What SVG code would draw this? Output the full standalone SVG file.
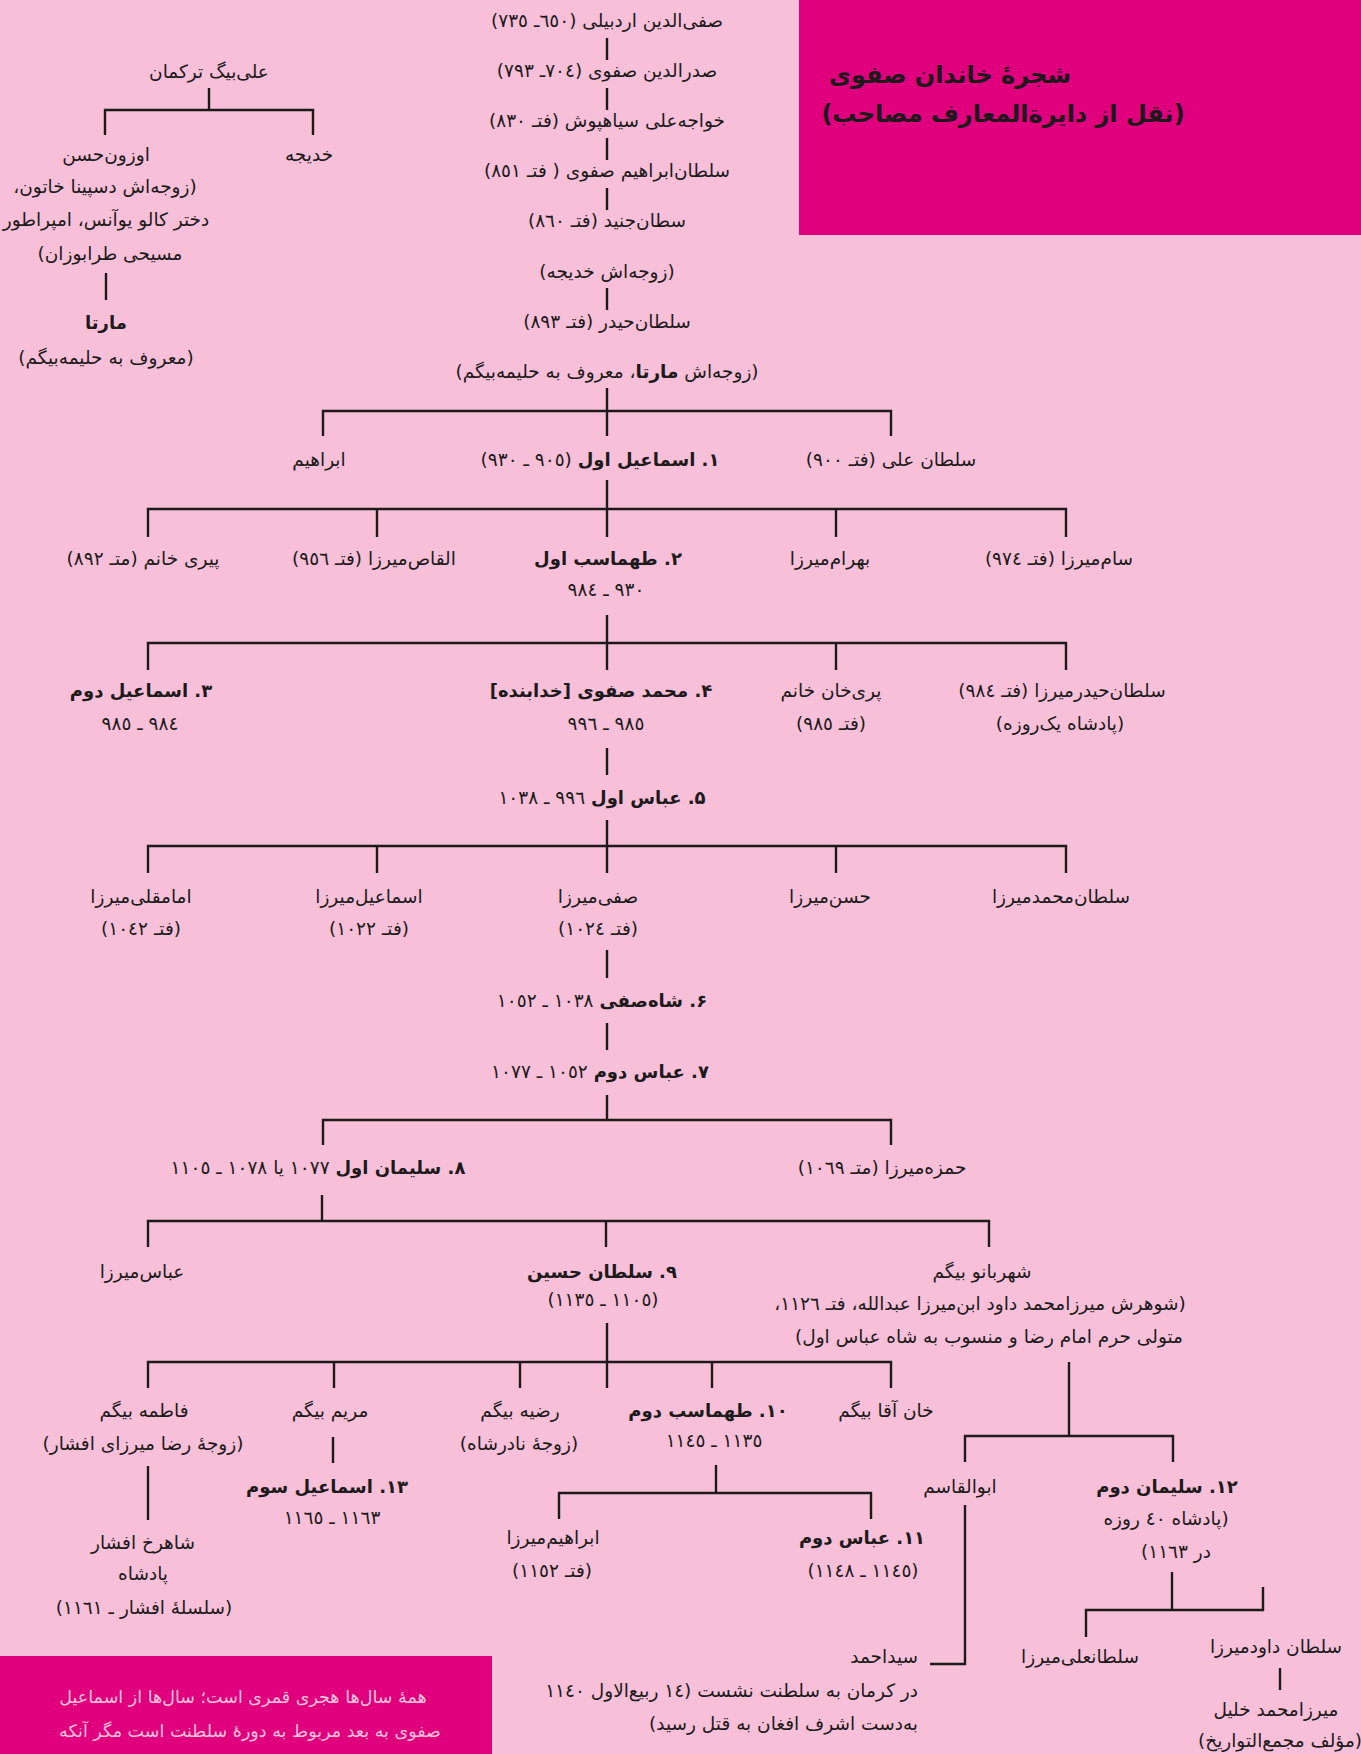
<svg xmlns="http://www.w3.org/2000/svg" width="1361" height="1754" viewBox="0 0 1361 1754">
<style>
.t{font-family:"DejaVu Sans",sans-serif;font-size:18.5px;fill:#1c1a1b;direction:rtl;text-anchor:middle}
.b{font-weight:bold;font-size:18px}
.r{text-anchor:start}
.ttl{font-family:"DejaVu Sans",sans-serif;font-size:24px;font-weight:bold;fill:#1c1a1b;direction:rtl;text-anchor:middle}
.note{font-family:"DejaVu Sans",sans-serif;font-size:17.5px;fill:#f3c3da;direction:rtl;text-anchor:middle}
.c line,.c polyline{stroke:#1c1a1b;stroke-width:2.4;fill:none}
</style>
<rect x="0" y="0" width="1361" height="1754" fill="#f7bfd8"/>
<g id="title">
<rect x="799" y="0" width="562" height="235" fill="#e0007e"/>
<text class="ttl" x="950" y="83">شجرهٔ خاندان صفوی</text>
<text class="ttl" x="1003" y="122">(نقل از دایرةالمعارف مصاحب)</text>
</g>
<g id="note">
<rect x="0" y="1656" width="492" height="98" fill="#e0007e"/>
<text class="note" x="243" y="1703">همهٔ سال‌ها هجری قمری است؛ سال‌ها از اسماعیل</text>
<text class="note" x="250" y="1737">صفوی به بعد مربوط به دورهٔ سلطنت است مگر آنکه</text>
</g>
<g class="c" id="connectors">
<line x1="607" y1="38" x2="607" y2="60"/>
<line x1="607" y1="88" x2="607" y2="110"/>
<line x1="607" y1="138" x2="607" y2="160"/>
<line x1="607" y1="188" x2="607" y2="210"/>
<line x1="607" y1="288" x2="607" y2="310"/>
<line x1="209" y1="88" x2="209" y2="110"/>
<polyline points="105,135 105,110 313,110 313,135"/>
<line x1="106" y1="273" x2="106" y2="300"/>
<line x1="607" y1="388" x2="607" y2="436"/>
<polyline points="323,436 323,411 891,411 891,436"/>
<line x1="607" y1="480" x2="607" y2="537"/>
<polyline points="148,537 148,509 1066,509 1066,537"/>
<line x1="377" y1="509" x2="377" y2="537"/>
<line x1="836" y1="509" x2="836" y2="537"/>
<line x1="607" y1="615" x2="607" y2="670"/>
<polyline points="148,670 148,643 1066,643 1066,670"/>
<line x1="836" y1="643" x2="836" y2="670"/>
<line x1="607" y1="748" x2="607" y2="775"/>
<line x1="607" y1="820" x2="607" y2="873"/>
<polyline points="148,873 148,846 1066,846 1066,873"/>
<line x1="377" y1="846" x2="377" y2="873"/>
<line x1="836" y1="846" x2="836" y2="873"/>
<line x1="607" y1="950" x2="607" y2="978"/>
<line x1="607" y1="1023" x2="607" y2="1050"/>
<line x1="607" y1="1095" x2="607" y2="1120"/>
<polyline points="323,1145 323,1120 891,1120 891,1145"/>
<line x1="322" y1="1195" x2="322" y2="1221"/>
<polyline points="148,1247 148,1221 989,1221 989,1247"/>
<line x1="606" y1="1221" x2="606" y2="1247"/>
<line x1="607" y1="1323" x2="607" y2="1388"/>
<polyline points="148,1388 148,1362 891,1362 891,1388"/>
<line x1="334" y1="1362" x2="334" y2="1388"/>
<line x1="520" y1="1362" x2="520" y2="1388"/>
<line x1="712" y1="1362" x2="712" y2="1388"/>
<line x1="1069" y1="1362" x2="1069" y2="1436"/>
<polyline points="965,1462 965,1436 1173,1436 1173,1462"/>
<line x1="148" y1="1466" x2="148" y2="1520"/>
<line x1="333" y1="1437" x2="333" y2="1463"/>
<line x1="716" y1="1465" x2="716" y2="1493"/>
<polyline points="559,1519 559,1493 871,1493 871,1519"/>
<polyline points="965,1505 965,1664 930,1664"/>
<line x1="1172" y1="1572" x2="1172" y2="1610"/>
<polyline points="1086,1637 1086,1610 1263,1610 1263,1587"/>
<line x1="1280" y1="1668" x2="1280" y2="1690"/>
</g>
<g id="n-safi-ardabili"><text class="t" x="607" y="27">صفی‌الدین اردبیلی (٦٥٠ـ ٧٣٥)</text></g>
<g id="n-sadr"><text class="t" x="607" y="77">صدرالدین صفوی (٧٠٤ـ ٧٩٣)</text></g>
<g id="n-khajeali"><text class="t" x="607" y="127">خواجه‌علی سیاهپوش (فتـ ٨٣٠)</text></g>
<g id="n-ebrahim-safavi"><text class="t" x="607" y="177">سلطان‌ابراهیم صفوی ( فتـ ٨٥١)</text></g>
<g id="n-jonayd"><text class="t" x="607" y="227">سطان‌جنید (فتـ ٨٦٠)</text><text class="t" x="607" y="278">(زوجه‌اش خدیجه)</text></g>
<g id="n-heydar"><text class="t" x="607" y="328">سلطان‌حیدر (فتـ ٨٩٣)</text><text class="t" x="607" y="378">(زوجه‌اش <tspan font-weight="bold">مارتا</tspan>، معروف به حلیمه‌بیگم)</text></g>
<g id="n-alibeg"><text class="t" x="209" y="78">علی‌بیگ ترکمان</text></g>
<g id="n-khadije"><text class="t" x="309" y="161">خدیجه</text></g>
<g id="n-uzunhasan"><text class="t" x="106" y="161">اوزون‌حسن</text><text class="t" x="105" y="193">(زوجه‌اش دسپینا خاتون،</text><text class="t" x="106" y="226">دختر کالو یوآنس، امپراطور</text><text class="t" x="110" y="260">مسیحی طرابوزان)</text></g>
<g id="n-marta"><text class="t b" x="106" y="329">مارتا</text><text class="t" x="106" y="364">(معروف به حلیمه‌بیگم)</text></g>
<g id="n-ebrahim"><text class="t" x="319" y="466">ابراهیم</text></g>
<g id="n-esmail1"><text class="t" x="600" y="466"><tspan class="b">۱. اسماعیل اول</tspan> (٩٠٥ ـ ٩٣٠)</text></g>
<g id="n-soltanali"><text class="t" x="891" y="466">سلطان علی (فتـ ٩٠٠)</text></g>
<g id="n-pirikhanom"><text class="t" x="143" y="565">پیری خانم (متـ ٨٩٢)</text></g>
<g id="n-alqas"><text class="t" x="374" y="565">القاص‌میرزا (فتـ ٩٥٦)</text></g>
<g id="n-tahmasb1"><text class="t b" x="608" y="565">۲. طهماسب اول</text><text class="t" x="606" y="596">٩٣٠ ـ ٩٨٤</text></g>
<g id="n-bahram"><text class="t" x="830" y="565">بهرام‌میرزا</text></g>
<g id="n-sam"><text class="t" x="1059" y="565">سام‌میرزا (فتـ ٩٧٤)</text></g>
<g id="n-esmail2"><text class="t b" x="141" y="697">۳. اسماعیل دوم</text><text class="t" x="140" y="730">٩٨٤ ـ ٩٨٥</text></g>
<g id="n-khodabande"><text class="t b" x="601" y="697">۴. محمد صفوی [خدابنده]</text><text class="t" x="606" y="730">٩٨٥ ـ ٩٩٦</text></g>
<g id="n-parikhan"><text class="t" x="831" y="697">پری‌خان خانم</text><text class="t" x="831" y="730">(فتـ ٩٨٥)</text></g>
<g id="n-heydarmirza"><text class="t" x="1062" y="697">سلطان‌حیدرمیرزا (فتـ ٩٨٤)</text><text class="t" x="1060" y="730">(پادشاه یک‌روزه)</text></g>
<g id="n-abbas1"><text class="t" x="602" y="804"><tspan class="b">۵. عباس اول</tspan> ٩٩٦ ـ ١٠٣٨</text></g>
<g id="n-emamqoli"><text class="t" x="141" y="903">امامقلی‌میرزا</text><text class="t" x="141" y="935">(فتـ ١٠٤٢)</text></g>
<g id="n-esmailmirza"><text class="t" x="369" y="903">اسماعیل‌میرزا</text><text class="t" x="369" y="935">(فتـ ١٠٢٢)</text></g>
<g id="n-safimirza"><text class="t" x="598" y="903">صفی‌میرزا</text><text class="t" x="598" y="935">(فتـ ١٠٢٤)</text></g>
<g id="n-hasanmirza"><text class="t" x="830" y="903">حسن‌میرزا</text></g>
<g id="n-mohammadmirza"><text class="t" x="1061" y="903">سلطان‌محمدمیرزا</text></g>
<g id="n-shahsafi"><text class="t" x="602" y="1007"><tspan class="b">۶. شاه‌صفی</tspan>  ١٠٣٨ ـ ١٠٥٢</text></g>
<g id="n-abbas2"><text class="t" x="600" y="1078"><tspan class="b">۷. عباس دوم</tspan> ١٠٥٢ ـ ١٠٧٧</text></g>
<g id="n-soleyman1"><text class="t" x="318" y="1174"><tspan class="b">۸. سلیمان اول</tspan> ١٠٧٧ یا ١٠٧٨ ـ ١١٠٥</text></g>
<g id="n-hamze"><text class="t" x="882" y="1174">حمزه‌میرزا (متـ ١٠٦٩)</text></g>
<g id="n-abbasmirza"><text class="t" x="142" y="1278">عباس‌میرزا</text></g>
<g id="n-hoseyn"><text class="t b" x="602" y="1278">۹. سلطان حسین</text><text class="t" x="603" y="1306">(١١٠٥ ـ ١١٣٥)</text></g>
<g id="n-shahrbanu"><text class="t" x="982" y="1278">شهربانو بیگم</text><text class="t" x="980" y="1310">(شوهرش میرزامحمد داود ابن‌میرزا عبدالله، فتـ ١١٢٦،</text><text class="t" x="989" y="1343">متولی حرم امام رضا و منسوب به شاه عباس اول)</text></g>
<g id="n-fateme"><text class="t" x="144" y="1417">فاطمه بیگم</text><text class="t" x="143" y="1450">(زوجهٔ رضا میرزای افشار)</text></g>
<g id="n-maryam"><text class="t" x="330" y="1417">مریم بیگم</text></g>
<g id="n-razie"><text class="t" x="520" y="1417">رضیه بیگم</text><text class="t" x="519" y="1450">(زوجهٔ نادرشاه)</text></g>
<g id="n-tahmasb2"><text class="t b" x="708" y="1417">۱۰. طهماسب دوم</text><text class="t" x="714" y="1447">١١٣٥ ـ ١١٤٥</text></g>
<g id="n-khanaqa"><text class="t" x="886" y="1417">خان آقا بیگم</text></g>
<g id="n-esmail3"><text class="t b" x="327" y="1493">۱۳. اسماعیل سوم</text><text class="t" x="332" y="1524">١١٦٣ ـ ١١٦٥</text></g>
<g id="n-shahrokh"><text class="t" x="143" y="1549">شاهرخ افشار</text><text class="t" x="143" y="1580">پادشاه</text><text class="t" x="144" y="1614">(سلسلهٔ افشار ـ ١١٦١)</text></g>
<g id="n-ebrahimmirza"><text class="t" x="553" y="1544">ابراهیم‌میرزا</text><text class="t" x="552" y="1577">(فتـ ١١٥٢)</text></g>
<g id="n-abbas3"><text class="t b" x="862" y="1544">۱۱. عباس دوم</text><text class="t" x="863" y="1577">(١١٤٥ ـ ١١٤٨)</text></g>
<g id="n-abolqasem"><text class="t" x="960" y="1493">ابوالقاسم</text></g>
<g id="n-soleyman2"><text class="t b" x="1167" y="1493">۱۲. سلیمان دوم</text><text class="t" x="1166" y="1525">(پادشاه ٤٠ روزه</text><text class="t" x="1176" y="1558">در ١١٦٣)</text></g>
<g id="n-seyedahmad"><text class="t r" x="918" y="1663">سیداحمد</text><text class="t r" x="918" y="1697">در کرمان به سلطنت نشست (١٤ ربیع‌الاول ١١٤٠</text><text class="t r" x="918" y="1730">به‌دست اشرف افغان به قتل رسید)</text></g>
<g id="n-soltanalimirza"><text class="t" x="1080" y="1663">سلطانعلی‌میرزا</text></g>
<g id="n-davud"><text class="t" x="1276" y="1653">سلطان داودمیرزا</text></g>
<g id="n-khalil"><text class="t" x="1276" y="1716">میرزامحمد خلیل</text><text class="t" x="1280" y="1747">(مؤلف مجمع‌التواریخ)</text></g>
</svg>
